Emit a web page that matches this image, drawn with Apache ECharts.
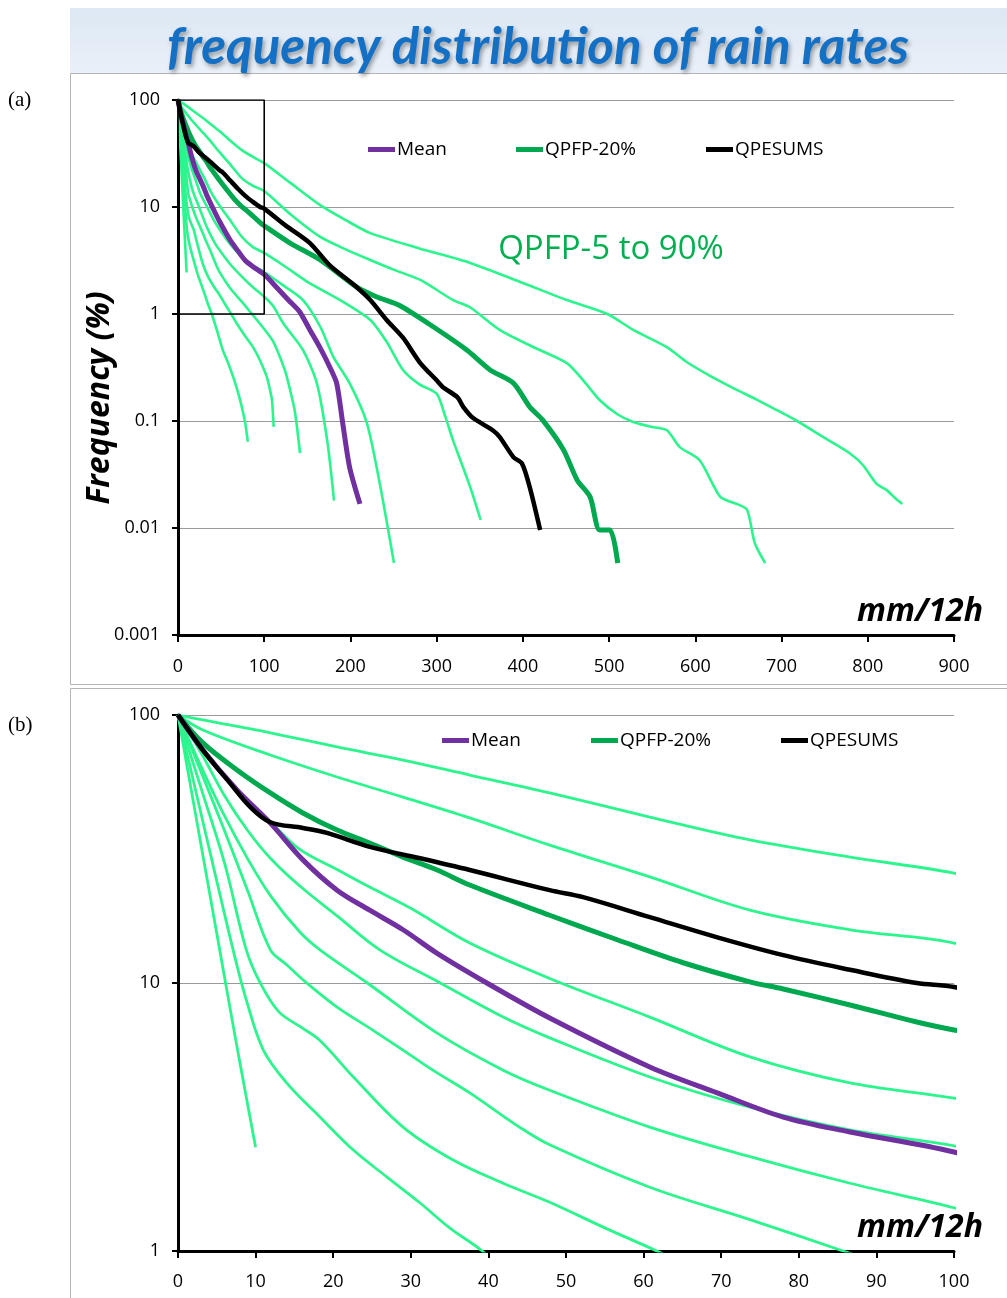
<!DOCTYPE html>
<html>
<head>
<meta charset="utf-8">
<script src="https://cdn.jsdelivr.net/npm/echarts@6/dist/echarts.min.js"></script>
<style>
html,body{margin:0;padding:0;background:#fff;}
#chart{width:1007px;height:1298px;}
</style>
</head>
<body>
<div id="chart"></div>
<script>
// ---- data: [rain rate (mm/12h), frequency (%)] ----
const qpfpA = [[0,100],[3.2,95.8],[11.9,85.8],[20.5,76],[29,67.9],[37.6,59.7],[47.9,51.2],[60.8,41.6],[73.7,34.2],[86.6,29.5],[100,25.7],[130,16.9],[165,10.4],[195,7.5],[223,5.7],[280,4.1],[339,3.0],[400,1.95],[451,1.35],[498,1.0],[528,0.71],[567,0.49],[590,0.356],[615,0.27],[644,0.203],[670,0.16],[690,0.132],[718,0.1],[748,0.071],[779,0.05],[794,0.039],[810,0.026],[822,0.0226],[832,0.019],[840,0.0168]];
const qpfpB = [[0,100],[3.2,87.9],[11.9,70.9],[20.5,58.7],[29,49.4],[37.6,41.3],[47.9,32.7],[60.8,24.9],[73.7,18.7],[86.6,15.8],[100,14.1],[130,8.6],[165,5.25],[195,4.0],[223,3.2],[250,2.6],[281,2.08],[319,1.35],[339,1.15],[373,0.71],[410,0.5],[451,0.348],[470,0.24],[489,0.157],[510,0.115],[528,0.098],[550,0.088],[567,0.082],[582,0.057],[605,0.043],[629,0.0195],[648,0.0168],[660,0.0148],[669,0.0072],[681,0.0047]];
const qpfpC = [[0,100],[3.2,74],[7.6,52.5],[11.9,40],[15.7,31.5],[20.5,26.5],[24.7,22.8],[30,19],[37.6,14.1],[47.9,10.4],[60.8,7.46],[73.7,5.3],[86.6,4.24],[100,3.72],[125,2.75],[150,2.0],[188,1.35],[223,0.88],[242,0.55],[261,0.30],[280,0.22],[300,0.18],[310,0.11],[319,0.066],[339,0.024],[351,0.0119]];
const qpfpD = [[0,100],[3,72],[6,50],[9,37],[12,29],[15.7,23],[20.5,17.8],[26,13.3],[33.8,10],[41.9,7.46],[47.9,6.24],[60.8,4.46],[73.7,3.44],[86.6,2.83],[100,2.47],[120,1.9],[145,1.35],[165,0.76],[180,0.40],[199,0.226],[219,0.096],[234,0.026],[250.5,0.0047]];
const qpfpE = [[0,100],[3,64],[6,42],[9,29],[12,21],[15.7,15.5],[18.3,13.3],[24.4,10],[33.4,6.5],[41.9,4.73],[47.9,3.98],[60.8,2.9],[73.7,2.25],[86.6,1.79],[100,1.45],[110,1.2],[122,0.82],[145,0.46],[161,0.226],[173,0.066],[181,0.018]];
const qpfpF = [[0,100],[3,61],[6,37],[9,22],[11.9,13.3],[14,11.7],[16.6,10],[20.5,8.13],[25,6.7],[29,5.62],[33,4.7],[37.6,3.89],[44,2.9],[47.9,2.49],[60.8,1.73],[73.7,1.31],[85.7,1.0],[99,0.74],[110,0.56],[118,0.40],[125,0.28],[130,0.195],[135,0.13],[138,0.088],[141.5,0.05]];
const qpfpG = [[0,100],[3,53],[6,28],[8.8,13.3],[10.6,10],[13,7.8],[16,6.8],[18.3,6.1],[22.6,4.46],[29,2.9],[35.4,2.19],[41.9,1.79],[47.9,1.52],[55,1.22],[61.7,1.0],[68,0.82],[78,0.62],[87,0.49],[95,0.37],[103,0.258],[107,0.19],[109,0.157],[111,0.088]];
const qpfpH = [[0,100],[2.5,49],[5,24],[7.1,13.3],[8.8,8.65],[11,5.62],[14,4.24],[18.3,3.16],[22.6,2.38],[26.9,1.89],[31.2,1.51],[35,1.22],[39.2,1.0],[45,0.71],[52,0.46],[58,0.35],[64,0.258],[70,0.18],[74,0.135],[78,0.095],[81,0.064]];
const qpfpI = [[0,100],[2.5,39],[5,15.3],[7.5,6],[10,2.44]];
const qpfp20 = [[0,100],[3.2,78.7],[7.6,62.4],[11.9,51.2],[16.1,43.1],[20.5,37.2],[24.7,33.3],[29,29.5],[33.4,26.4],[37.6,23.2],[47.9,17.9],[56.6,14.5],[65.1,11.9],[73.7,10.1],[78,9.5],[86.6,8.28],[95.2,7.15],[100,6.68],[130,4.6],[165,3.2],[207,1.79],[230,1.45],[257,1.2],[296,0.76],[335,0.46],[362,0.30],[389,0.226],[408,0.135],[423,0.102],[447,0.054],[463,0.028],[478,0.0195],[489,0.0096],[501,0.0096],[510,0.0047]];
const meanData = [[0,100],[3.2,74],[7.6,52.5],[11.9,39.5],[16.1,28.8],[20.5,22.2],[24.7,18.7],[29,15.8],[33.4,12.9],[39.8,10],[47.9,7.4],[60.8,4.86],[69.5,3.89],[78,3.16],[86.6,2.78],[100,2.34],[115,1.75],[128,1.35],[141,1.05],[153,0.71],[165,0.48],[176,0.32],[184,0.226],[191,0.096],[199,0.037],[211,0.0168]];
const qpesums = [[0,100],[3.2,74],[6.7,55.7],[9.3,45.4],[11.9,39.8],[16.1,37.9],[19.2,36.3],[24.7,32.2],[31.2,29.2],[37.6,26.4],[47.9,22.2],[52.2,20.9],[60.8,17.6],[69.5,14.8],[78,12.7],[86.6,11.2],[95.2,10],[100,9.66],[125,6.7],[153,4.6],[176,2.85],[207,1.79],[223,1.35],[242,0.88],[261,0.6],[281,0.348],[300,0.24],[307,0.208],[324,0.167],[331,0.135],[342,0.107],[365,0.082],[373,0.071],[389,0.046],[399,0.040],[408,0.024],[420,0.0096]];
const zoomBox = [[0,1],[0,100],[100,100],[100,1],[0,1]];

const greenCurves = [qpfpA,qpfpB,qpfpC,qpfpD,qpfpE,qpfpF,qpfpG,qpfpH,qpfpI];
const greenNames = ['QPFP-a','QPFP-b','QPFP-c','QPFP-d','QPFP-e','QPFP-f','QPFP-g','QPFP-h','QPFP-i'];
const xTicksTop = [0,100,200,300,400,500,600,700,800,900];
const xTicksBottom = [0,10,20,30,40,50,60,70,80,90,100];

const BRIGHT = '#2CF58E', DARK = '#00A84F', PURPLE = '#7030A0', BLACK = '#000000';
const FONT = "'Open Sans', 'Noto Sans', sans-serif";

const chart = echarts.init(document.getElementById('chart'), null, {renderer:'canvas'});

function yFmt(v){ return v >= 1 ? String(Math.round(v)) : String(+v.toPrecision(1)); }

function makeSeries(gi){
  const s = [];
  const sm = gi === 0 ? 0.25 : 0.35;
  greenCurves.forEach((d,i)=>{
    s.push({type:'line', name:greenNames[i], xAxisIndex:gi, yAxisIndex:gi, data:d, showSymbol:false, smooth:sm, clip:true, lineStyle:{color:BRIGHT,width:gi===0?2.6:2.8}, itemStyle:{color:BRIGHT}, z:2, silent:true});
  });
  s.push({type:'line', name:'QPFP-20%', xAxisIndex:gi, yAxisIndex:gi, data:qpfp20, showSymbol:false, smooth:sm, clip:true, lineStyle:{color:DARK,width:5}, itemStyle:{color:DARK}, z:3});
  s.push({type:'line', name:'Mean', xAxisIndex:gi, yAxisIndex:gi, data:meanData, showSymbol:false, smooth:sm, clip:true, lineStyle:{color:PURPLE,width:5}, itemStyle:{color:PURPLE}, z:4});
  s.push({type:'line', name:'QPESUMS', xAxisIndex:gi, yAxisIndex:gi, data:qpesums, showSymbol:false, smooth:sm, clip:true, lineStyle:{color:BLACK,width:4.5}, itemStyle:{color:BLACK}, z:5});
  return s;
}

const series = makeSeries(0).concat(makeSeries(1));
series.push({type:'line', name:'box', xAxisIndex:0, yAxisIndex:0, data:zoomBox, showSymbol:false, lineStyle:{color:'#000',width:1.6}, z:6, silent:true});

function legendAt(name, left, top){
  return {data:[name], left:left, top:top, icon:'rect', itemWidth:27, itemHeight:5, selectedMode:false, padding:0,
    textStyle:{fontFamily:FONT, fontSize:19, color:'#000', padding:[0,0,0,-3]}};
}

const axisLabelStyle = {fontFamily:FONT, fontSize:18, color:'#000'};

const option = {
  animation:false,
  backgroundColor:'#fff',
  grid:[
    {left:178, right:53, top:100, height:535},
    {left:178, right:53, top:715, height:536}
  ],
  xAxis:[
    {type:'value', gridIndex:0, min:xTicksTop[0], max:xTicksTop[xTicksTop.length-1], interval:100,
     axisLine:{onZero:false, lineStyle:{color:'#000',width:3}}, axisTick:{show:true,length:7,lineStyle:{color:'#000',width:2}},
     axisLabel:Object.assign({margin:23},axisLabelStyle), splitLine:{show:false}},
    {type:'value', gridIndex:1, min:xTicksBottom[0], max:xTicksBottom[xTicksBottom.length-1], interval:10,
     axisLine:{onZero:false, lineStyle:{color:'#000',width:3}}, axisTick:{show:true,length:7,lineStyle:{color:'#000',width:2}},
     axisLabel:Object.assign({margin:22},axisLabelStyle), splitLine:{show:false}}
  ],
  yAxis:[
    {type:'log', logBase:10, gridIndex:0, min:0.001, max:100,
     axisLine:{show:true, lineStyle:{color:'#000',width:3}}, axisTick:{show:true,length:6,lineStyle:{color:'#000',width:2}},
     axisLabel:Object.assign({margin:18, formatter:yFmt},axisLabelStyle),
     splitLine:{show:true, lineStyle:{color:'#9a9a9a',width:1.2}}},
    {type:'log', logBase:10, gridIndex:1, min:1, max:100,
     axisLine:{show:true, lineStyle:{color:'#000',width:3}}, axisTick:{show:true,length:6,lineStyle:{color:'#000',width:2}},
     axisLabel:Object.assign({margin:18, formatter:yFmt},axisLabelStyle),
     splitLine:{show:true, lineStyle:{color:'#9a9a9a',width:1.2}}}
  ],
  legend:[
    legendAt('Mean',368,140), legendAt('QPFP-20%',516,140), legendAt('QPESUMS',706,140),
    legendAt('Mean',442,731), legendAt('QPFP-20%',591,731), legendAt('QPESUMS',781,731)
  ],
  graphic:[
    {type:'rect', z:-10, shape:{x:70,y:8,width:940,height:65},
     style:{fill:new echarts.graphic.LinearGradient(0,0,0,1,[{offset:0,color:'#dde8f4'},{offset:1,color:'#e9f0f8'}]), stroke:null}},
    {type:'rect', z:-10, shape:{x:70.5,y:73.5,width:945,height:611}, style:{fill:null, stroke:'#b4b4b4', lineWidth:1}},
    {type:'rect', z:-10, shape:{x:70.5,y:688.5,width:945,height:615}, style:{fill:null, stroke:'#b4b4b4', lineWidth:1}},
    {type:'text', x:538, y:48, z:10,
     style:{text:'frequency distribu\u200Ction of rain rates', fontFamily:"Lato, 'Open Sans', sans-serif", fontWeight:'bold', fontStyle:'italic', fontSize:51, fill:'#1470C4', textAlign:'center', textVerticalAlign:'middle',
       textShadowColor:'rgba(0,0,0,0.35)', textShadowBlur:4, textShadowOffsetX:2, textShadowOffsetY:3}},
    {type:'text', x:8, y:90, style:{text:'(a)', fontFamily:"'Liberation Serif', 'DejaVu Serif', serif", fontSize:21, fill:'#000'}},
    {type:'text', x:8, y:715, style:{text:'(b)', fontFamily:"'Liberation Serif', 'DejaVu Serif', serif", fontSize:21, fill:'#000'}},
    {type:'text', x:100, y:398, rotation:Math.PI/2, z:10,
     style:{text:'Frequency (%)', fontFamily:FONT, fontWeight:'bold', fontStyle:'italic', fontSize:32, fill:'#000', textAlign:'center', textVerticalAlign:'middle'}},
    {type:'text', x:611, y:250, z:10,
     style:{text:'QPFP-5 to 90%', fontFamily:FONT, fontSize:33, fill:'#00B050', textAlign:'center', textVerticalAlign:'middle'}},
    {type:'text', x:983, y:612, z:10,
     style:{text:'mm/12h', fontFamily:FONT, fontWeight:'bold', fontStyle:'italic', fontSize:32, fill:'#000', textAlign:'right', textVerticalAlign:'middle'}},
    {type:'text', x:983, y:1228, z:10,
     style:{text:'mm/12h', fontFamily:FONT, fontWeight:'bold', fontStyle:'italic', fontSize:32, fill:'#000', textAlign:'right', textVerticalAlign:'middle'}}
  ],
  series:series
};
chart.setOption(option);
</script>
</body>
</html>
